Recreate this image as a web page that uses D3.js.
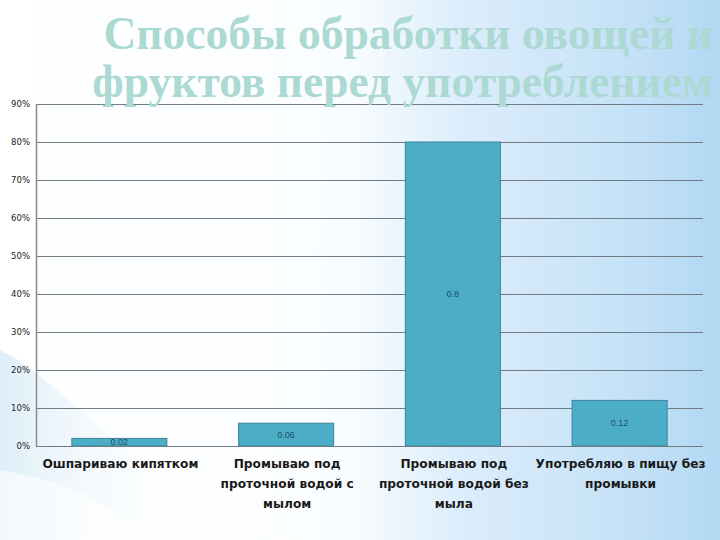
<!DOCTYPE html>
<html><head><meta charset="utf-8">
<script src="https://cdn.jsdelivr.net/npm/d3@7"></script>
<style>html,body{margin:0;padding:0;background:#fff;}svg{display:block;}</style>
</head><body>
<svg id="c" width="720" height="540"></svg>
<script>
const categories = [
  ["Ошпариваю кипятком"],
  ["Промываю под", "проточной водой с", "мылом"],
  ["Промываю под", "проточной водой без", "мыла"],
  ["Употребляю в пищу без", "промывки"]
];
const values = [0.02, 0.06, 0.8, 0.12];
const valueLabels = ["0.02", "0.06", "0.8", "0.12"];
const yTicks = [0, 0.1, 0.2, 0.3, 0.4, 0.5, 0.6, 0.7, 0.8, 0.9];
const titleLines = ["Способы обработки овощей и", "фруктов перед употреблением"];

const svg = d3.select("#c");
const W = 720, H = 540;
const defs = svg.append("defs");
const g1 = defs.append("linearGradient").attr("id","bg").attr("x1","0").attr("x2","1").attr("y1","0").attr("y2","0");
g1.append("stop").attr("offset","0").attr("stop-color","#ffffff");
g1.append("stop").attr("offset","0.48").attr("stop-color","#fafdff");
g1.append("stop").attr("offset","0.64").attr("stop-color","#dcedfb");
g1.append("stop").attr("offset","0.86").attr("stop-color","#c6e2f7");
g1.append("stop").attr("offset","1").attr("stop-color","#b3d8f3");
svg.append("rect").attr("width",W).attr("height",H).attr("fill","url(#bg)");
const g2 = defs.append("linearGradient").attr("id","bl").attr("x1","0").attr("x2","1").attr("y1","0").attr("y2","0");
g2.append("stop").attr("offset","0").attr("stop-color","#d6e9f6").attr("stop-opacity",0.8);
g2.append("stop").attr("offset","1").attr("stop-color","#ffffff").attr("stop-opacity",0);
svg.append("path").attr("d","M0,350 C40,370 90,420 150,470 L200,540 L0,540 Z").attr("fill","url(#bl)");
svg.append("path").attr("d","M0,470 C60,480 110,500 150,540 L0,540 Z").attr("fill","#ffffff").attr("opacity",0.6);

const m = {l:36, r:703, t:104, b:446};
const x = d3.scaleBand().domain(d3.range(values.length)).range([m.l, m.r]).paddingInner(0.43).paddingOuter(0.215);
const y = d3.scaleLinear().domain([0, 0.9]).range([m.b, m.t]);

// gridlines
svg.append("g").selectAll("line").data(yTicks.slice(1)).join("line")
  .attr("x1", m.l).attr("x2", m.r).attr("y1", d=>Math.round(y(d))+0.5).attr("y2", d=>Math.round(y(d))+0.5)
  .attr("stroke","#6f7b85").attr("stroke-width",1);

// y axis
const ya = svg.append("g").attr("transform",`translate(${m.l},0)`)
  .call(d3.axisLeft(y).tickValues(yTicks).tickFormat(d3.format(".0%")).tickSize(0).tickPadding(6));
ya.select(".domain").remove();
ya.selectAll("text").attr("font-family","DejaVu Sans").attr("font-size",8.5).attr("fill","#222").attr("x", -6).attr("dy","0.32em")
  .attr("text-anchor","end");

// bars
svg.append("g").selectAll("rect").data(values).join("rect")
  .attr("x",(d,i)=>x(i)).attr("width",x.bandwidth())
  .attr("y",d=>y(d)).attr("height",d=>y(0)-y(d))
  .attr("fill","#4badc6").attr("stroke","#3f8399").attr("stroke-width",1);

// axis lines
svg.append("line").attr("x1",m.l+0.5).attr("x2",m.l+0.5).attr("y1",m.t).attr("y2",m.b).attr("stroke","#8a8a8a").attr("stroke-width",1.5);
svg.append("line").attr("x1",m.l).attr("x2",m.r).attr("y1",m.b+0.5).attr("y2",m.b+0.5).attr("stroke","#6f7b85").attr("stroke-width",1);

// value labels
svg.append("g").selectAll("text").data(values).join("text")
  .attr("x",(d,i)=>x(i)+x.bandwidth()/2).attr("y",d=>(y(d)+y(0))/2).attr("dy","0.35em")
  .attr("text-anchor","middle").attr("font-family","Liberation Sans, Arial").attr("font-size",9)
  .attr("fill","#1e4f66").text((d,i)=>valueLabels[i]);

// category labels
const cl = svg.append("g").selectAll("text").data(categories).join("text")
  .attr("x",(d,i)=>x(i)+x.bandwidth()/2+1).attr("y",468)
  .attr("text-anchor","middle").attr("font-family","DejaVu Sans").attr("font-size",12.2).attr("font-weight","bold")
  .attr("fill","#1a1a1a");
cl.selectAll("tspan").data(d=>d).join("tspan")
  .attr("x",function(){return this.parentNode.getAttribute("x");})
  .attr("dy",(d,i)=>i===0?0:20).text(d=>d);

// title
svg.append("g").selectAll("text").data(titleLines).join("text")
  .attr("x",713).attr("y",(d,i)=>49+i*48).attr("text-anchor","end")
  .attr("font-family","Liberation Serif, Times New Roman").attr("font-weight","bold").attr("font-size",45.5)
  .attr("fill","#acd9d2").text(d=>d);
</script>
</body></html>
